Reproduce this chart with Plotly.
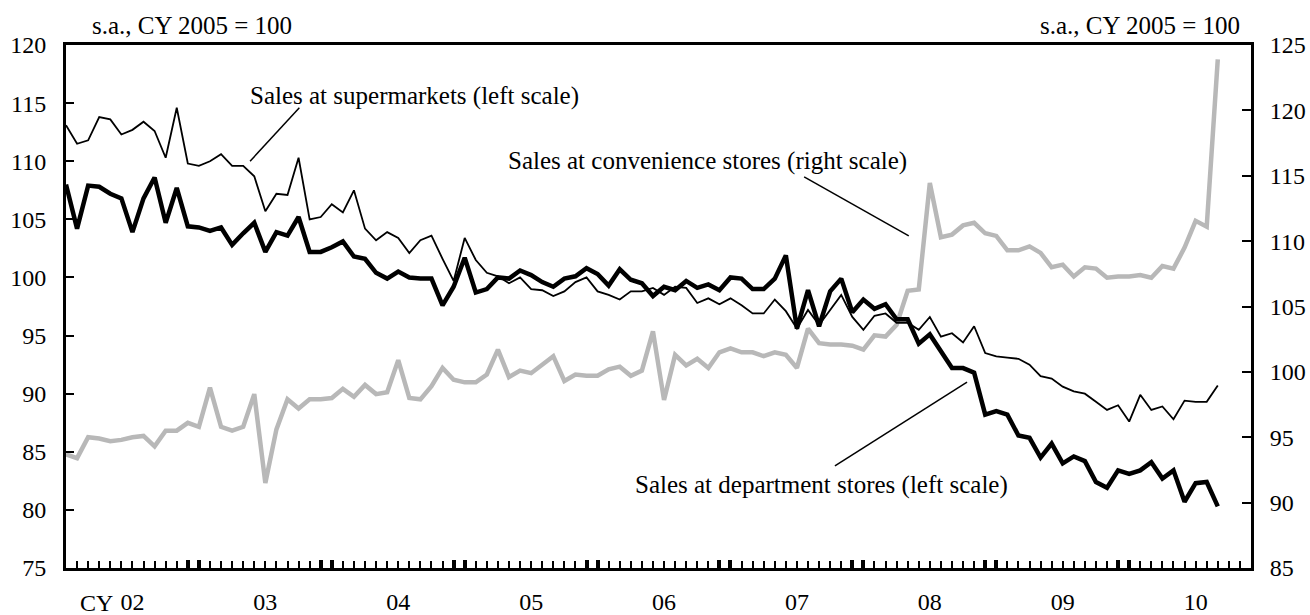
import plotly.graph_objects as go

# monthly, Jan 2002 .. Sep 2010 (index 0 = Jan 2002)
months = list(range(105))

supermarkets = [
    113.1, 111.5, 111.8, 113.8, 113.6, 112.3, 112.7, 113.4, 112.6, 110.3, 114.6, 109.8,
    109.6, 110.0, 110.6, 109.6, 109.6, 108.7, 105.7, 107.2, 107.1, 110.3, 105.0, 105.2,
    106.3, 105.6, 107.5, 104.2, 103.2, 103.9, 103.4, 102.1, 103.2, 103.6, 101.6, 99.7,
    103.4, 101.5, 100.4, 100.1, 99.5, 100.0, 99.0, 98.9, 98.4, 98.8, 99.6, 100.0,
    98.8, 98.5, 98.1, 98.8, 98.8, 99.1, 98.5, 99.2, 99.1, 97.8, 98.2, 97.7,
    98.2, 97.6, 96.9, 96.9, 98.1, 97.1, 95.6, 97.2, 95.9, 97.2, 98.5, 96.6,
    95.5, 96.7, 96.9, 96.1, 96.1, 95.5, 96.6, 94.9, 95.2, 94.4, 95.8, 93.5,
    93.2, 93.1, 93.0, 92.5, 91.5, 91.3, 90.6, 90.2, 90.0, 89.3, 88.6, 89.0,
    87.6, 89.9, 88.6, 88.9, 87.8, 89.4, 89.3, 89.3, 90.7,
]

department = [
    108.0, 104.2, 107.9, 107.8, 107.2, 106.8, 103.9, 106.8, 108.6, 104.7, 107.7, 104.4,
    104.3, 104.0, 104.3, 102.8, 103.8, 104.7, 102.2, 103.9, 103.6, 105.2, 102.2, 102.2,
    102.6, 103.1, 101.8, 101.6, 100.4, 99.9, 100.5, 100.0, 99.9, 99.9, 97.6, 99.2,
    101.7, 98.7, 99.0, 100.0, 99.9, 100.6, 100.2, 99.6, 99.2, 99.9, 100.1, 100.8,
    100.3, 99.3, 100.7, 99.8, 99.5, 98.4, 99.2, 98.9, 99.7, 99.1, 99.4, 98.9,
    100.0, 99.9, 99.0, 99.0, 99.9, 101.9, 95.6, 98.9, 95.8, 98.8, 99.9, 97.0,
    98.1, 97.3, 97.7, 96.4, 96.4, 94.3, 95.1, 93.7, 92.2, 92.2, 91.8, 88.2,
    88.5, 88.2, 86.4, 86.2, 84.5, 85.7, 84.0, 84.6, 84.2, 82.4, 81.9, 83.4,
    83.1, 83.4, 84.1, 82.7, 83.4, 80.7, 82.3, 82.4, 80.3,
]

convenience = [
    93.7, 93.4, 95.0, 94.9, 94.7, 94.8, 95.0, 95.1, 94.3, 95.5, 95.5, 96.1,
    95.8, 98.8, 95.8, 95.5, 95.8, 98.3, 91.5, 95.6, 97.9, 97.2, 97.9, 97.9,
    98.0, 98.7, 98.1, 99.0, 98.3, 98.45, 100.9, 98.0, 97.9, 98.9, 100.3, 99.4,
    99.2, 99.2, 99.8, 101.7, 99.6, 100.1, 99.9, 100.5, 101.2, 99.3, 99.8, 99.7,
    99.7, 100.2, 100.4, 99.7, 100.1, 103.1, 97.85, 101.3, 100.5, 101.0, 100.3, 101.5,
    101.8, 101.5, 101.5, 101.2, 101.5, 101.3, 100.3, 103.3, 102.2, 102.1, 102.1, 102.0,
    101.7, 102.8, 102.7, 103.6, 106.2, 106.3, 114.45, 110.3, 110.5, 111.2, 111.4, 110.6,
    110.4, 109.3, 109.3, 109.6, 109.1, 108.0, 108.2, 107.3, 108.0, 107.9, 107.2, 107.3,
    107.3, 107.4, 107.2, 108.1, 107.9, 109.5, 111.55, 111.1, 123.9,
]

year_labels = ["02", "03", "04", "05", "06", "07", "08", "09", "10"]
year_pos = [6 + 12 * k for k in range(len(year_labels))]
month_ticks = list(range(107))
year_edge_ticks = [0] + [t for k in range(1, 9) for t in (12 * k - 1, 12 * k)]

FONT = "Liberation Serif, Times New Roman, serif"
TICK_SIZE = 24
TEXT_SIZE = 25

fig = go.Figure()
fig.add_trace(go.Scatter(x=months, y=convenience, mode="lines", yaxis="y",
                         line=dict(color="#b8b8b8", width=4.5)))
fig.add_trace(go.Scatter(x=months, y=department, mode="lines", yaxis="y2",
                         line=dict(color="black", width=4.5)))
fig.add_trace(go.Scatter(x=months, y=supermarkets, mode="lines", yaxis="y2",
                         line=dict(color="black", width=1.8)))

xr = [0, 107]
fig.update_layout(
    width=1310, height=615,
    margin=dict(l=66, r=59, t=45, b=47),
    paper_bgcolor="white", plot_bgcolor="white",
    showlegend=False,
    font=dict(family=FONT, size=TICK_SIZE, color="black"),
    xaxis=dict(range=xr, tickmode="array", tickvals=month_ticks,
               ticktext=[""] * len(month_ticks), ticks="inside", ticklen=7,
               tickwidth=1.5, tickcolor="black", showline=True, linewidth=3,
               linecolor="black", mirror=True, showgrid=False, zeroline=False,
               automargin=False),
    xaxis2=dict(range=xr, overlaying="x", anchor="y", tickmode="array",
                tickvals=year_edge_ticks, ticks="inside", ticklen=8, tickwidth=3.5,
                tickcolor="black", showticklabels=False, showline=False,
                showgrid=False, zeroline=False, automargin=False),
    xaxis3=dict(range=xr, overlaying="x", anchor="y", tickmode="array",
                tickvals=year_pos, ticktext=year_labels, ticks="",
                ticklabelstandoff=17, showline=False, showgrid=False, zeroline=False,
                automargin=False),
    yaxis=dict(range=[85, 125], side="right", tickmode="linear", tick0=85, dtick=5,
               ticks="inside", ticklen=9, tickwidth=2, tickcolor="black",
               showline=True, linewidth=3, linecolor="black", showgrid=False,
               zeroline=False, ticklabelstandoff=11, automargin=False),
    yaxis2=dict(range=[75, 120], side="left", overlaying="y", anchor="x",
                tickmode="linear", tick0=75, dtick=5, ticks="inside", ticklen=8,
                tickwidth=2, tickcolor="black", showline=True, linewidth=3,
                linecolor="black", showgrid=False, zeroline=False,
                ticklabelstandoff=12, automargin=False),
)

# dummy traces so the overlaid x axes get drawn
fig.add_trace(go.Scatter(x=[None], y=[None], xaxis="x2", yaxis="y", showlegend=False))
fig.add_trace(go.Scatter(x=[None], y=[None], xaxis="x3", yaxis="y", showlegend=False))

# unit notes above the axes
fig.add_annotation(text="s.a., CY 2005 = 100", xref="paper", yref="paper", x=0, y=1,
                   xanchor="left", yanchor="bottom", xshift=24, yshift=4,
                   showarrow=False, font=dict(size=TEXT_SIZE))
fig.add_annotation(text="s.a., CY 2005 = 100", xref="paper", yref="paper", x=1, y=1,
                   xanchor="right", yanchor="bottom", xshift=-9, yshift=4,
                   showarrow=False, font=dict(size=TEXT_SIZE))
fig.add_annotation(text="CY", xref="x", yref="paper", x=year_pos[0], y=0,
                   xanchor="right", yanchor="top", xshift=-17, yshift=-20,
                   showarrow=False, font=dict(size=TICK_SIZE))

# series labels with leader lines
fig.add_annotation(text="Sales at supermarkets (left scale)", xref="x", yref="y2",
                   x=31.45, y=115.6, showarrow=False, font=dict(size=TEXT_SIZE))
fig.add_shape(type="line", xref="x", yref="y2", x0=21.07, y0=114.6, x1=16.62, y1=110.0,
              line=dict(color="black", width=1.5))

fig.add_annotation(text="Sales at convenience stores (right scale)", xref="x", yref="y2",
                   x=57.95, y=110.0, showarrow=False, font=dict(size=TEXT_SIZE))
fig.add_shape(type="line", xref="x", yref="y2", x0=66.65, y0=108.65, x1=76.1, y1=103.57,
              line=dict(color="black", width=1.5))

fig.add_annotation(text="Sales at department stores (left scale)", xref="x", yref="y2",
                   x=68.25, y=82.14, showarrow=False, font=dict(size=TEXT_SIZE))
fig.add_shape(type="line", xref="x", yref="y2", x0=69.43, y0=83.78, x1=81.36, y1=91.0,
              line=dict(color="black", width=1.5))

fig.write_html("out.html", config={"displayModeBar": False},
               post_script="document.body.style.margin = '0'; "
                           "document.body.style.overflow = 'hidden';")
